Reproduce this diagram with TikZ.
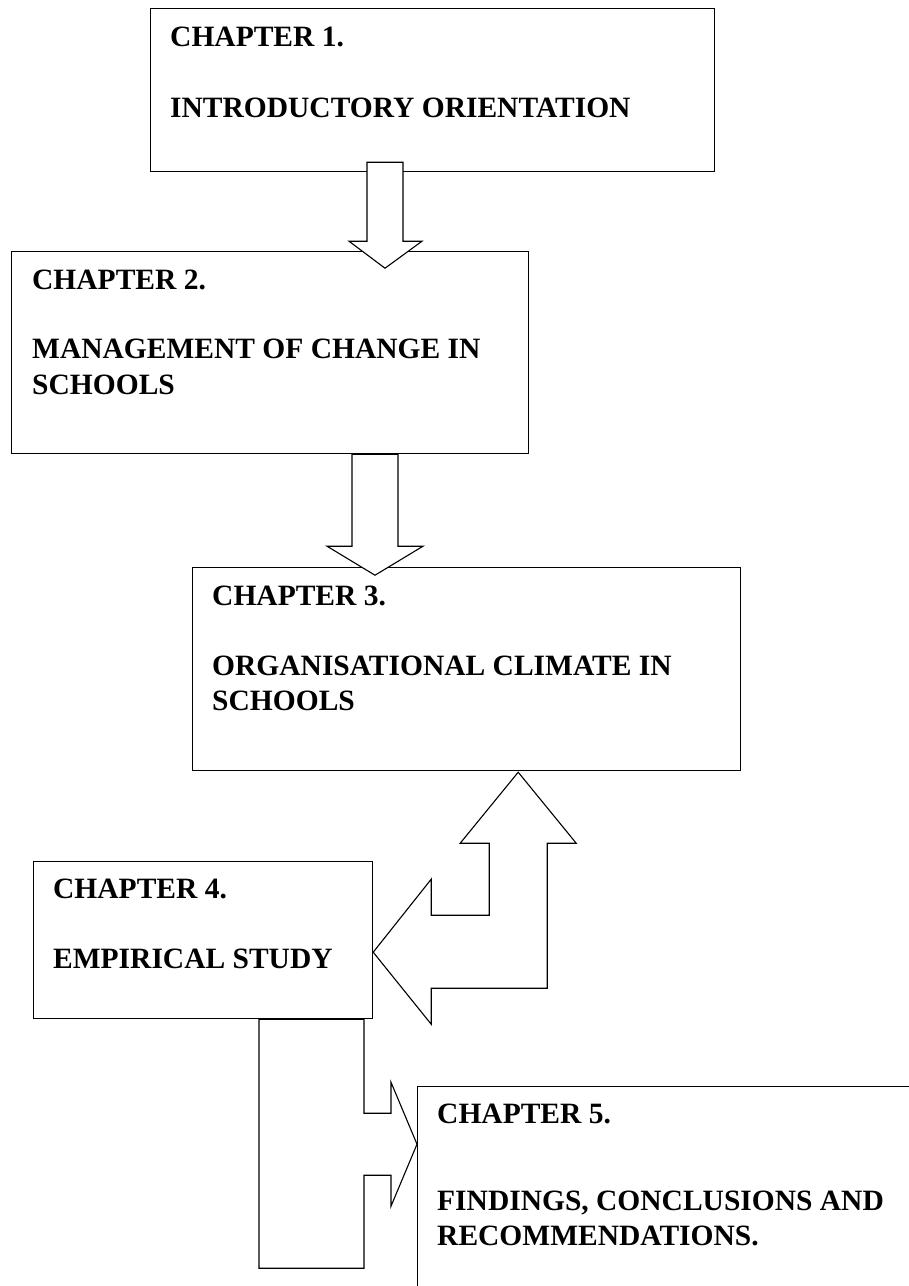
\documentclass[tikz,border=0pt]{standalone}
\usepackage{fontspec}
\setmainfont{Liberation Serif}
\begin{document}
\begin{tikzpicture}[x=1pt,y=-1pt,
  chapbox/.style={draw=black, line width=1.2pt, fill=white, rectangle, inner sep=0pt, anchor=north west},
  barrow/.style={draw=black, line width=1.1pt, fill=white, line join=miter},
  ltxt/.style={anchor=base west, inner sep=0pt, font=\fontsize{29.5}{36}\selectfont\bfseries}]
\useasboundingbox (0,0) rectangle (909,1286);
\clip (0,0) rectangle (909,1286);
% boxes
\node[chapbox, minimum width=564pt, minimum height=163pt] (c1) at (150,8) {};
\node[chapbox, minimum width=517pt, minimum height=202pt] (c2) at (11,251) {};
\node[chapbox, minimum width=548pt, minimum height=203pt] (c3) at (192,567) {};
\node[chapbox, minimum width=339pt, minimum height=157pt] (c4) at (33,861) {};
\node[chapbox, minimum width=560pt, minimum height=260pt] (c5) at (417,1086) {};
% block arrows
\draw[barrow] (c1.south west) ++(217,-10) -- ++(36,0) -- ++(0,79) -- ++(19,0) -- ++(-37,27) -- ++(-36,-27) -- ++(18,0) -- cycle;
\draw[barrow] (c2.south west) ++(341,0) -- ++(46,0) -- ++(0,92) -- ++(25,0) -- ++(-48,29) -- ++(-48,-29) -- ++(25,0) -- cycle;
\draw[barrow] (c4.south east) ++(0,-67) -- ++(58,-73) -- ++(0,36) -- ++(58,0) -- ++(0,-72) -- ++(-29,0) -- ++(58,-71) -- ++(58,71) -- ++(-29,0) -- ++(0,145) -- ++(-116,0) -- ++(0,36) -- cycle;
\draw[barrow] (c4.south west) ++(226,0) -- ++(0,249) -- ++(105,0) -- ++(0,-93) -- ++(27,0) -- ++(0,31) -- ++(26,-62) -- ++(-26,-62) -- ++(0,31) -- ++(-27,0) -- ++(0,-94) -- cycle;
% texts
\node[ltxt] (t1a) at (170,46) {CHAPTER 1.};
\node[ltxt] (t1b) at (170,117) {INTRODUCTORY ORIENTATION};
\node[ltxt] (t2a) at (32,289) {CHAPTER 2.};
\node[ltxt] (t2b) at (32,358) {MANAGEMENT OF CHANGE IN};
\node[ltxt] (t2c) at (32,394) {SCHOOLS};
\node[ltxt] (t3a) at (212,605) {CHAPTER 3.};
\node[ltxt] (t3b) at (212,675) {ORGANISATIONAL CLIMATE IN};
\node[ltxt] (t3c) at (212,710) {SCHOOLS};
\node[ltxt] (t4a) at (53,898) {CHAPTER 4.};
\node[ltxt] (t4b) at (53,968) {EMPIRICAL STUDY};
\node[ltxt] (t5a) at (437,1123) {CHAPTER 5.};
\node[ltxt] (t5b) at (437,1210) {FINDINGS, CONCLUSIONS AND};
\node[ltxt] (t5c) at (437,1245) {RECOMMENDATIONS.};
\end{tikzpicture}
\end{document}
